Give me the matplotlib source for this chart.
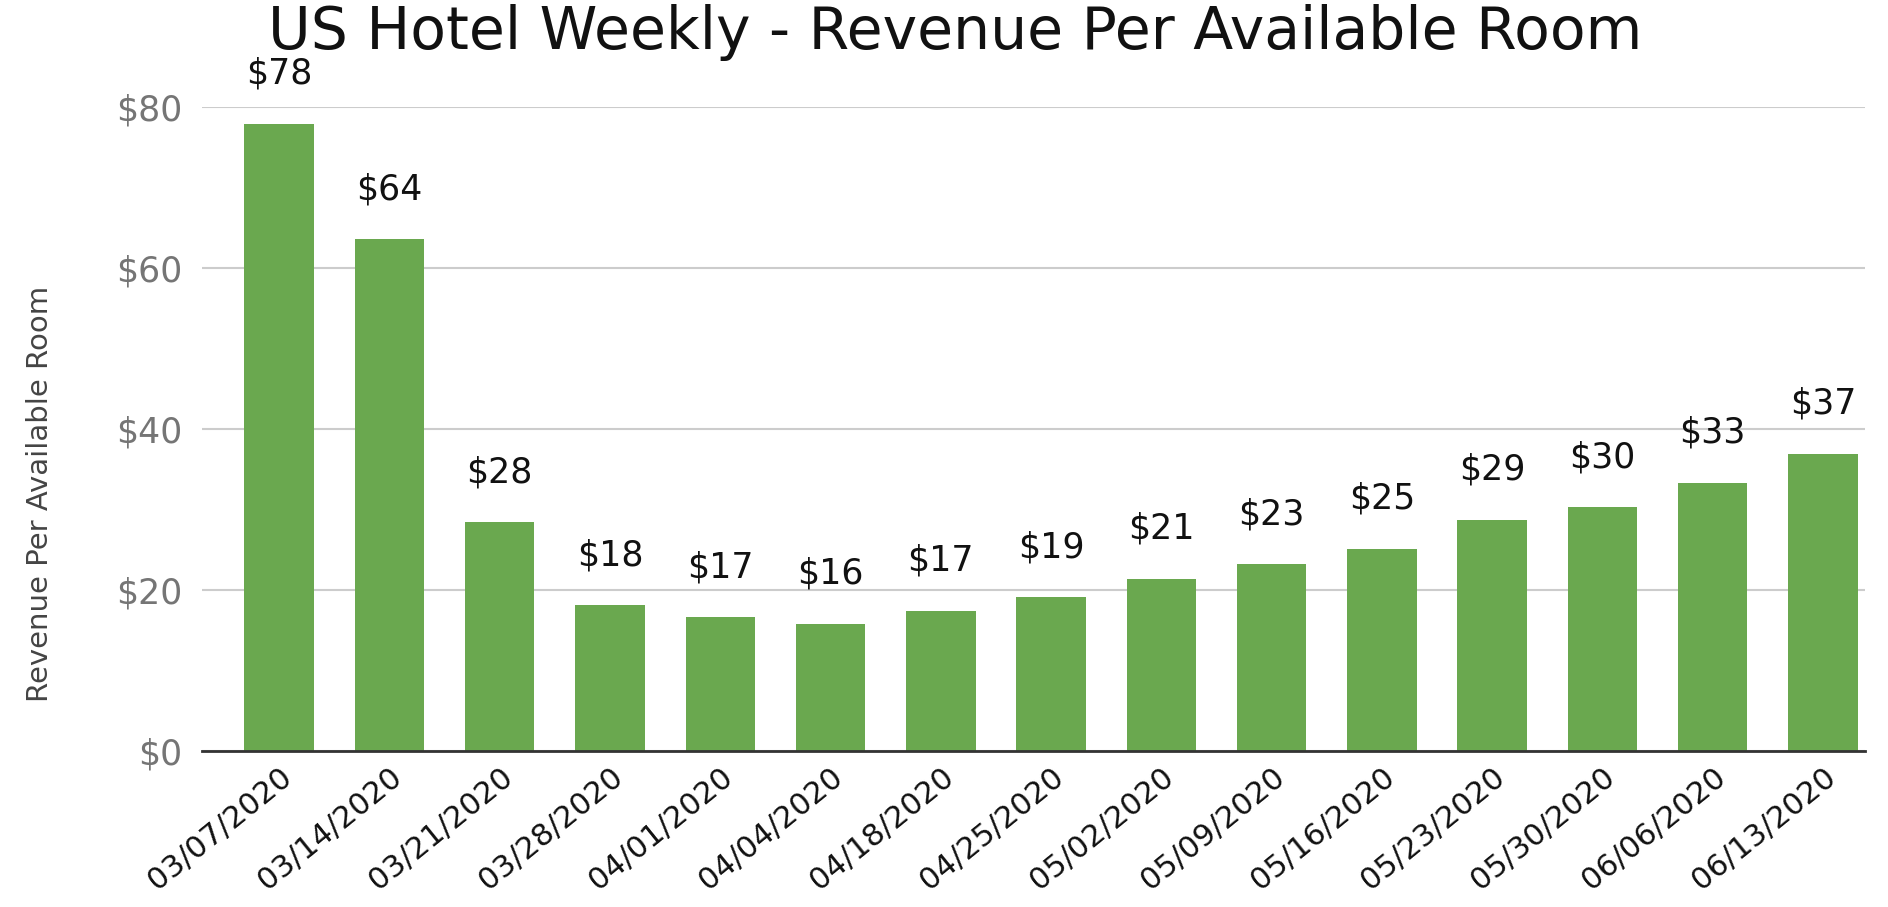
import matplotlib
matplotlib.use("Agg")
import matplotlib.pyplot as plt
import numpy as np

# weekly RevPAR
weeks = ["03/07/2020", "03/14/2020", "03/21/2020", "03/28/2020", "04/01/2020",
         "04/04/2020", "04/18/2020", "04/25/2020", "05/02/2020", "05/09/2020",
         "05/16/2020", "05/23/2020", "05/30/2020", "06/06/2020", "06/13/2020"]
revpar = [77.9, 63.6, 28.4, 18.1, 16.6, 15.8, 17.4, 19.1, 21.4, 23.2,
          25.1, 28.7, 30.3, 33.3, 36.9]
y_ticks = [0, 20, 40, 60, 80]

plt.rcParams['font.family'] = ['DejaVu Sans']

fig = plt.figure(figsize=(18.88, 9.07), dpi=100)
ax = fig.add_axes([0.107, 0.172, 0.881, 0.710])

x = np.arange(len(weeks))
ax.bar(x, revpar, width=0.63, color="#6aa84f", zorder=3)

for xi, v in zip(x, revpar):
    ax.annotate("$%d" % round(v), (xi, v), xytext=(0, 36), textcoords="offset points",
                ha="center", va="center", fontsize=25, color="#111111",
                annotation_clip=False)

ax.set_xlim(-0.70, len(weeks) - 1 + 0.385)
ax.set_ylim(0, 80)
ax.set_yticks(y_ticks)
ax.set_yticklabels(["$%d" % t for t in y_ticks])
ax.set_xticks(x)
ax.set_xticklabels(weeks, rotation=39, ha="right", va="top", rotation_mode="anchor")

ax.tick_params(axis="y", length=0, pad=14, labelsize=25, labelcolor="#757575")
ax.tick_params(axis="x", length=0, pad=8, labelsize=22, labelcolor="#111111")

ax.grid(axis="y", color="#cccccc", linewidth=1.5, zorder=0)
for s in ["top", "right", "left"]:
    ax.spines[s].set_visible(False)
ax.spines["bottom"].set_color("#333333")
ax.spines["bottom"].set_linewidth(2)
ax.spines["bottom"].set_zorder(4)

ax.set_ylabel("Revenue Per Available Room", fontsize=21, color="#444444")
ax.yaxis.set_label_coords(-0.089, 0.40)

fig.text(0.506, 0.964, "US Hotel Weekly - Revenue Per Available Room",
         ha="center", va="center", fontsize=42, color="#111111")

fig.savefig("out.png", dpi=100)
